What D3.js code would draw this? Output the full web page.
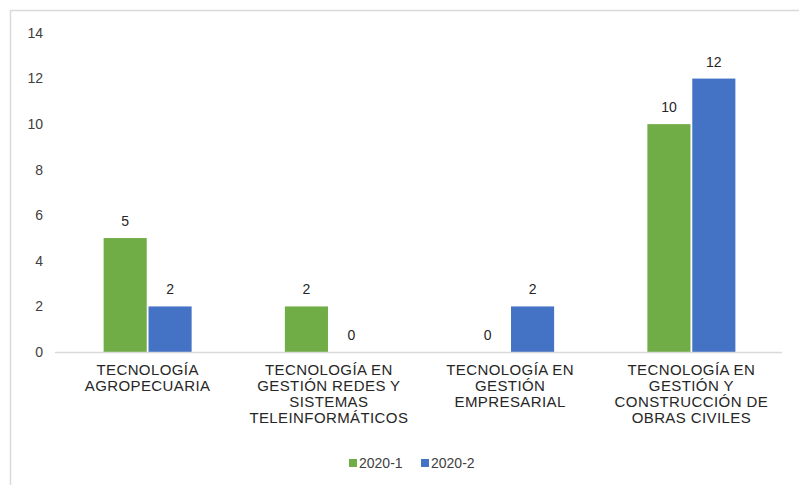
<html>
<head>
    <script src="https://d3js.org/d3.v7.min.js"></script>
    <style>
        body { margin: 0; background: #fff; }
        text { font-family: "Liberation Sans", Arial, sans-serif; }
    </style>
</head>
<body>
<svg id="chart" width="799" height="485"></svg>
<script>
    const categories = [
        ["TECNOLOGÍA", "AGROPECUARIA"],
        ["TECNOLOGÍA EN", "GESTIÓN REDES Y", "SISTEMAS", "TELEINFORMÁTICOS"],
        ["TECNOLOGÍA EN", "GESTIÓN", "EMPRESARIAL"],
        ["TECNOLOGÍA EN", "GESTIÓN Y", "CONSTRUCCIÓN DE", "OBRAS CIVILES"]
    ];
    const seriesNames = ["2020-1", "2020-2"];
    const values2020_1 = [5, 2, 0, 10];
    const values2020_2 = [2, 0, 2, 12];
    const yTicks = [0, 2, 4, 6, 8, 10, 12, 14];
    const colors = ["#70AD47", "#4472C4"];

    const svg = d3.select("#chart");

    // light frame of the chart area
    svg.append("rect")
        .attr("x", 10.5).attr("y", 10.5)
        .attr("width", 800).attr("height", 490)
        .attr("fill", "none")
        .attr("stroke", "#d9d9d9")
        .attr("stroke-width", 1.5);

    const x0 = d3.scaleBand().domain(d3.range(categories.length)).range([57, 782]);
    const x1 = d3.scaleBand().domain(seriesNames).range([x0.bandwidth() / 2 - 44, x0.bandwidth() / 2 + 44]).paddingInner(0.04);
    const y = d3.scaleLinear().domain([0, 14]).range([352, 33]);

    // y tick labels
    svg.selectAll("text.ytick").data(yTicks).join("text")
        .attr("class", "ytick")
        .attr("x", 43).attr("y", d => y(d))
        .attr("dy", "0.35em")
        .attr("text-anchor", "end")
        .attr("font-size", 14)
        .attr("fill", "#404040")
        .text(d => d);

    const data = categories.map((c, i) => ({i: i, vals: [values2020_1[i], values2020_2[i]]}));

    const groups = svg.selectAll("g.cat").data(data).join("g")
        .attr("class", "cat")
        .attr("transform", d => "translate(" + x0(d.i) + ",0)");

    groups.selectAll("rect").data(d => d.vals.map((v, k) => ({k: k, v: v}))).join("rect")
        .attr("x", d => x1(seriesNames[d.k]))
        .attr("y", d => y(d.v))
        .attr("width", x1.bandwidth())
        .attr("height", d => y(0) - y(d.v))
        .attr("fill", d => colors[d.k]);

    groups.selectAll("text.val").data(d => d.vals.map((v, k) => ({k: k, v: v}))).join("text")
        .attr("class", "val")
        .attr("x", d => x1(seriesNames[d.k]) + x1.bandwidth() / 2)
        .attr("y", d => y(d.v) - 12)
        .attr("text-anchor", "middle")
        .attr("font-size", 14)
        .attr("fill", "#262626")
        .text(d => d.v);

    // baseline
    svg.append("line")
        .attr("x1", 55).attr("x2", 782)
        .attr("y1", y(0) + 0.5).attr("y2", y(0) + 0.5)
        .attr("stroke", "#d9d9d9")
        .attr("stroke-width", 1.5);

    // category labels
    groups.each(function (d) {
        const t = d3.select(this).append("text")
            .attr("text-anchor", "middle")
            .attr("font-size", 15)
            .attr("letter-spacing", 0.4)
            .attr("fill", "#262626");
        categories[d.i].forEach((line, j) => {
            t.append("tspan")
                .attr("x", x0.bandwidth() / 2)
                .attr("y", 375 + j * 16)
                .text(line);
        });
    });

    // legend
    const legend = svg.selectAll("g.legend").data(seriesNames).join("g")
        .attr("class", "legend")
        .attr("transform", (d, i) => "translate(" + (349 + i * 72) + ",463)");
    legend.append("rect")
        .attr("x", 0).attr("y", -4)
        .attr("width", 8).attr("height", 8)
        .attr("fill", (d, i) => colors[i]);
    legend.append("text")
        .attr("x", 10).attr("y", 0)
        .attr("dy", "0.35em")
        .attr("font-size", 14)
        .attr("fill", "#404040")
        .text(d => d);
</script>
</body>
</html>
